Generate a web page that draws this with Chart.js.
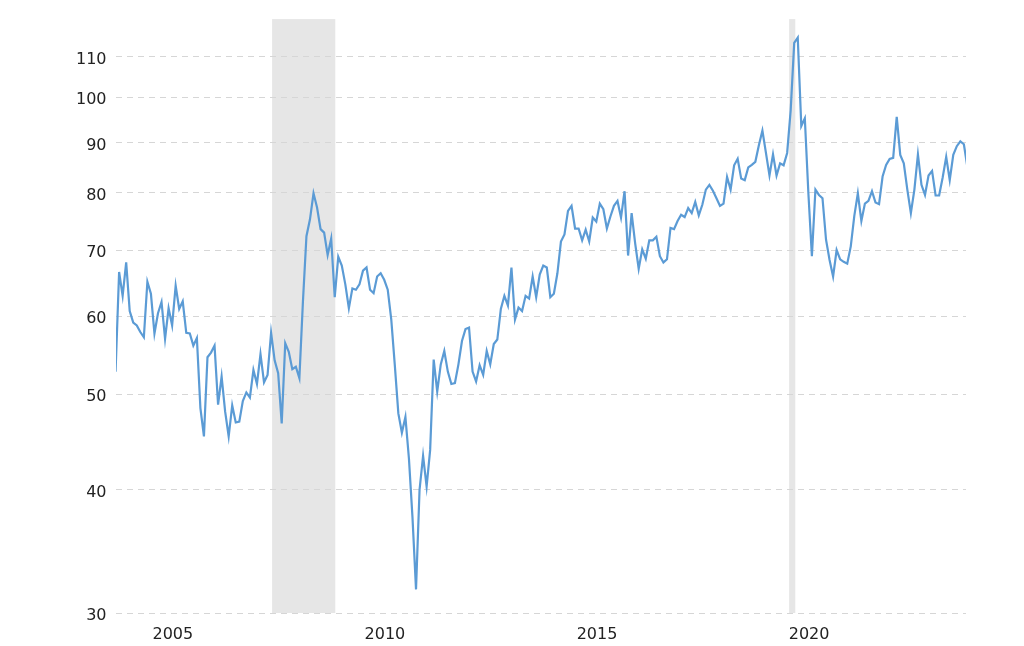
<!DOCTYPE html>
<html>
<head>
<meta charset="utf-8">
<script src="https://cdn.jsdelivr.net/npm/chart.js@4.4.1/dist/chart.umd.min.js"></script>
<style>
  html, body { margin: 0; padding: 0; background: #fff; }
  #chart { width: 1024px; height: 646px; position: relative; }
</style>
</head>
<body>
<div id="chart"><canvas id="c"></canvas></div>
<script>
// monthly readings, first one sits on the left edge of the plot
const firstMonth = 2003.65;
const values = [
    52.7, 66.5, 62.9, 68.0, 60.7, 59.1, 58.7, 57.8, 57.1, 65.0, 63.2, 57.6,
    60.4, 62.0, 56.9, 61.1, 58.7, 64.4, 61.0, 62.1, 57.7, 57.6, 56.0, 57.0,
    48.4, 45.3, 54.5, 55.1, 56.0, 48.8, 52.1, 48.0, 45.3, 48.7, 46.8, 46.9,
    49.2, 50.2, 49.6, 52.9, 51.2, 54.9, 51.4, 52.3, 57.7, 54.1, 52.5, 46.7,
    56.3, 55.2, 53.0, 53.3, 51.9, 62.0, 72.3, 75.2, 79.9, 77.3, 73.5, 72.9,
    69.2, 71.9, 62.7, 68.9, 67.5, 64.6, 61.1, 64.0, 63.8, 64.6, 66.7, 67.2,
    63.8, 63.3, 65.8, 66.3, 65.3, 63.8, 59.5, 53.5, 47.8, 45.7, 47.4, 43.0,
    37.5, 31.7, 40.0, 43.3, 40.3, 43.9, 54.2, 50.3, 53.6, 55.3, 52.7, 51.2,
    51.3, 53.6, 56.6, 58.2, 58.4, 52.7, 51.5, 53.5, 52.3, 55.3, 53.6, 56.2,
    56.8, 61.0, 62.9, 61.5, 67.2, 59.5, 61.2, 60.7, 62.9, 62.5, 65.8, 62.7,
    66.1, 67.5, 67.2, 62.7, 63.2, 66.3, 71.4, 72.6, 76.7, 77.6, 73.6, 73.6,
    71.6, 73.4, 71.4, 75.5, 74.8, 78.0, 77.0, 73.6, 75.7, 77.6, 78.5, 75.5,
    80.3, 69.1, 76.3, 71.1, 67.0, 70.1, 68.6, 71.6, 71.6, 72.2, 69.0, 68.0,
    68.5, 73.7, 73.5, 74.9, 76.0, 75.6, 77.2, 76.3, 78.3, 75.9, 77.8, 80.6,
    81.5, 80.4, 79.0, 77.6, 78.0, 83.0, 80.6, 85.3, 86.6, 82.7, 82.4, 84.9,
    85.4, 86.0, 89.4, 92.5, 87.8, 83.3, 87.5, 83.3, 85.7, 85.3, 87.8, 97.0,
    113.5, 114.9, 93.5, 95.2, 80.0, 69.0, 80.6, 79.6, 79.0, 71.7, 68.4, 65.8,
    70.0, 68.5, 68.1, 67.8, 70.6, 75.8, 79.9, 74.9, 78.0, 78.5, 80.3, 78.2,
    77.9, 83.1, 85.4, 86.6, 86.8, 95.5, 87.4, 85.7, 80.6, 76.3, 80.6, 87.5,
    81.5, 79.6, 83.3, 84.2, 79.5, 79.5, 82.9, 87.0, 82.4, 87.4, 89.2, 90.2,
    89.6, 84.9
];

const yTicks = [30, 40, 50, 60, 70, 80, 90, 100, 110];
const xTicks = [2005, 2010, 2015, 2020];
const recessions = [[2007.34, 2008.83], [2019.53, 2019.675]];

const points = values.map((v, i) => ({ x: firstMonth + i / 12, y: v }));

const labelFont = { family: 'DejaVu Sans', size: 16 };

const recessionBands = {
    id: 'recessionBands',
    beforeDraw(chart) {
        const { ctx, chartArea, scales } = chart;
        ctx.save();
        ctx.fillStyle = '#e6e6e6';
        recessions.forEach(([from, to]) => {
            const x1 = scales.x.getPixelForValue(from);
            const x2 = scales.x.getPixelForValue(to);
            ctx.fillRect(x1, chartArea.top, x2 - x1, chartArea.bottom - chartArea.top);
        });
        ctx.restore();
    }
};

new Chart(document.getElementById('c'), {
    type: 'line',
    data: {
        datasets: [{
            data: points,
            borderColor: '#5b9bd5',
            borderWidth: 2.2,
            pointRadius: 0,
            tension: 0,
            fill: false
        }]
    },
    options: {
        responsive: true,
        maintainAspectRatio: false,
        animation: false,
        layout: { padding: { top: 18, right: 58, bottom: 0, left: 0 } },
        plugins: {
            legend: { display: false },
            tooltip: { enabled: false }
        },
        scales: {
            x: {
                type: 'linear',
                min: 2003.66,
                max: 2023.70,
                grid: { display: false },
                border: { display: false },
                afterBuildTicks: scale => { scale.ticks = xTicks.map(v => ({ value: v })); },
                afterFit: scale => { scale.height = 33; },
                ticks: {
                    font: labelFont,
                    color: '#222',
                    padding: 4,
                    maxRotation: 0,
                    callback: v => String(v)
                }
            },
            y: {
                type: 'logarithmic',
                min: 30,
                max: 120,
                grid: { color: '#d6d6d6', lineWidth: 1, drawTicks: false },
                border: { display: false, dash: [6, 5] },
                afterBuildTicks: scale => { scale.ticks = yTicks.map(v => ({ value: v })); },
                afterFit: scale => { scale.width = 116; },
                ticks: {
                    font: labelFont,
                    color: '#222',
                    padding: 9.5,
                    labelOffset: 3,
                    callback: v => String(v)
                }
            }
        }
    },
    plugins: [recessionBands]
});
</script>
</body>
</html>
